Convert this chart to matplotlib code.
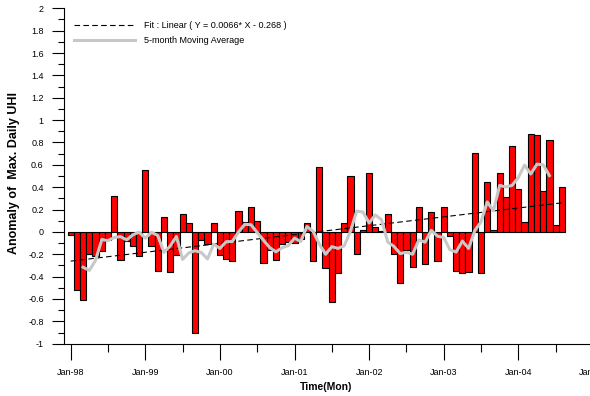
import numpy as np
import pandas as pd
import matplotlib
matplotlib.use('Agg')
import matplotlib.pyplot as plt
from matplotlib.ticker import MultipleLocator, FuncFormatter

# monthly anomaly of max daily UHI, Jan-98 .. Aug-04
anomaly = [-0.03, -0.52, -0.61, -0.20, -0.22, -0.17, -0.07, 0.32, -0.25, -0.08, -0.13, -0.22,
           0.55, -0.13, -0.35, 0.13, -0.36, -0.21, 0.16, 0.08, -0.90, -0.07, -0.11, 0.08,
           -0.21, -0.24, -0.26, 0.19, 0.09, 0.22, 0.10, -0.28, -0.16, -0.25, -0.11, -0.09,
           -0.10, -0.06, 0.08, -0.26, 0.58, -0.32, -0.63, -0.37, 0.08, 0.50, -0.20, 0.02,
           0.53, 0.04, 0.01, 0.16, -0.20, -0.46, -0.16, -0.31, 0.22, -0.29, 0.18, -0.26,
           0.22, -0.04, -0.35, -0.37, -0.36, 0.71, -0.37, 0.45, 0.02, 0.53, 0.31, 0.77,
           0.38, 0.09, 0.88, 0.87, 0.37, 0.82, 0.06, 0.40]
year_labels = ['Jan-98', 'Jan-99', 'Jan-00', 'Jan-01', 'Jan-02', 'Jan-03', 'Jan-04', 'Jan-05']
fit_slope = 0.0066
fit_icpt = -0.268

x = np.arange(len(anomaly))
ma = pd.Series(anomaly).rolling(5, center=True).mean()
fit = fit_slope * (x + 1) + fit_icpt

plt.rcParams['font.family'] = ['Liberation Sans', 'DejaVu Sans']
fig = plt.figure(figsize=(5.9, 3.96), dpi=100)
ax = fig.add_axes([64/590, 52.3/396, 536/590, 335.4/396])

ax.bar(x, anomaly, width=1.0, color='red', edgecolor='black', linewidth=0.8, zorder=2)
ax.plot(x, fit, color='black', lw=0.8, dashes=(5, 3), zorder=3,
        label='Fit : Linear ( Y = 0.0066* X - 0.268 )')
ax.plot(x, ma, color='#c8c8c8', lw=2.2, zorder=4, label='5-month Moving Average')

ax.set_xlim(-1.08, 85.14)
ax.set_ylim(-1, 2)
ax.set_xticks(np.arange(0, 85, 12))
ax.set_xticklabels(year_labels)
ax.set_xticks(np.arange(6, 85, 12), minor=True)
ax.yaxis.set_major_locator(MultipleLocator(0.2))
ax.yaxis.set_minor_locator(MultipleLocator(0.1))
ax.yaxis.set_major_formatter(FuncFormatter(lambda v, p: f'{round(v, 1) + 0.0:g}'))

for s in ['top', 'right']:
    ax.spines[s].set_visible(False)
for s in ['left', 'bottom']:
    ax.spines[s].set_linewidth(0.8)

ax.tick_params(axis='x', which='major', length=11.5, width=0.8, pad=6, labelsize=6.5)
ax.tick_params(axis='x', which='minor', length=5.8, width=0.8)
ax.tick_params(axis='y', which='major', length=8.6, width=0.8, pad=6, labelsize=6.5)
ax.tick_params(axis='y', which='minor', length=4.3, width=0.8)

ax.legend(loc='upper left', bbox_to_anchor=(0.0187, 0.962), frameon=False, fontsize=6.5,
          handlelength=6.7, handletextpad=1.1, labelspacing=0.7, borderaxespad=0, borderpad=0)

fig.text(14/590, (396-173)/396, 'Anomaly of  Max. Daily UHI', rotation=90, fontsize=9,
         fontweight='bold', ha='center', va='center')
fig.text(326/590, (396-387)/396, 'Time(Mon)', fontsize=7.5, fontweight='bold',
         ha='center', va='center')

fig.savefig('out.png', dpi=100)
